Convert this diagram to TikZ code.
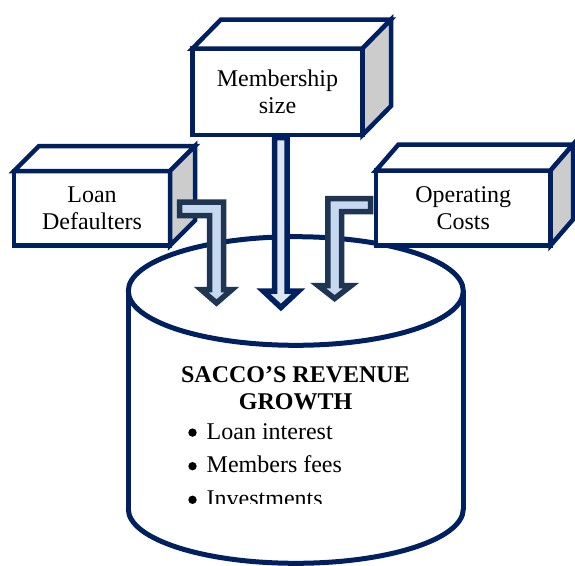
\documentclass[tikz,border=0pt]{standalone}
\usepackage{fontspec}
\setmainfont{Liberation Serif}
\usetikzlibrary{calc}
\definecolor{navy}{HTML}{002060}
\definecolor{slate}{HTML}{1F3552}
\definecolor{arrfill}{HTML}{C6D9F1}
\definecolor{arrfillb}{HTML}{DCE6F2}
\definecolor{sidegrey}{HTML}{CCCCCC}
\newcommand\drawcuboid[3]{%
  \draw[boxline,fill=white] (#1.north west) -- ++(#2,#3) -- ($(#1.north east)+(#2,#3)$) -- (#1.north east) -- cycle;
  \draw[boxline,fill=sidegrey] (#1.north east) -- ++(#2,#3) -- ($(#1.south east)+(#2,#3)$) -- (#1.south east) -- cycle;}
\begin{document}
\begin{tikzpicture}[x=1pt,y=-1pt,
  boxline/.style={draw=navy,line width=4.5pt},
  front/.style={boxline,fill=white,rectangle,inner sep=0pt,outer sep=0pt,align=center,font=\fontsize{24}{27}\selectfont},
  cylline/.style={draw=navy,line width=5pt},
  blockarrow/.style={draw=slate,fill=arrfill,line width=5.5pt},
  blockarrowb/.style={draw=navy,fill=arrfillb,line width=5.5pt},
  titletext/.style={align=center,inner sep=0pt,font=\bfseries\fontsize{24}{27}\selectfont},
  itemtext/.style={inner sep=0pt,anchor=base west,font=\fontsize{24}{27}\selectfont},
  bulletdot/.style={fill=black}]
\useasboundingbox (0,0) rectangle (575,565);
% cylinder
\coordinate (revenue) at (295.8,291);
\coordinate (revbottom) at (295.8,509);
\draw[cylline] (128.3,291) -- (128.3,509);
\draw[cylline] (463.3,291) -- (463.3,509);
\begin{scope}
  \clip (100,509) rectangle (500,600);
  \draw[cylline] (revbottom) ellipse [x radius=167.5, y radius=54.3];
\end{scope}
\draw[cylline,fill=white] (revenue) ellipse [x radius=167.5, y radius=54.3];
% cylinder text
\node[titletext] (title) at (295.5,388.5) {SACCO’S REVENUE\\GROWTH};
\begin{scope}
  \clip (130,340) rectangle (460,503.4);
  \node[itemtext] (item1) at (206.5,439.3) {Loan interest};
  \node[itemtext] (item2) at (206.5,472.9) {Members fees};
  \node[itemtext] (item3) at (206.5,506.5) {Investments};
  \fill[bulletdot] (192.5,432.6) circle (4.2);
  \fill[bulletdot] (192.5,466.2) circle (4.2);
  \fill[bulletdot] (192.5,499.8) circle (4.2);
\end{scope}
% boxes
\node[front, minimum width=156pt, minimum height=74.5pt] (loan) at (92,208.25) {Loan\\Defaulters};
\drawcuboid{loan}{25}{-25}
\node[front, minimum width=170pt, minimum height=86.5pt] (member) at (277.5,91.75) {Membership\\size};
\drawcuboid{member}{28.5}{-29}
\node[front, minimum width=174.5pt, minimum height=75pt] (oper) at (463.25,208) {Operating\\Costs};
\drawcuboid{oper}{22.5}{-26}
% arrows
\draw[blockarrow] (179.5,202) -- (223.5,202) -- (223.5,289.5) -- (232,289.5) -- (216.5,303) -- (201,289.5) -- (209.5,289.5) -- (209.5,215.5) -- (179.5,215.5) -- cycle;
\draw[blockarrowb] (274.5,137.5) -- (287.2,137.5) -- (287.2,291) -- (298.5,291) -- (280.9,307.5) -- (263.3,291) -- (274.5,291) -- cycle;
\draw[blockarrow] (370.5,198.5) -- (327.75,198.5) -- (327.75,285.5) -- (318,285.5) -- (334.6,298.5) -- (351.3,285.5) -- (341.5,285.5) -- (341.5,211.5) -- (370.5,211.5) -- cycle;
\end{tikzpicture}
\end{document}
